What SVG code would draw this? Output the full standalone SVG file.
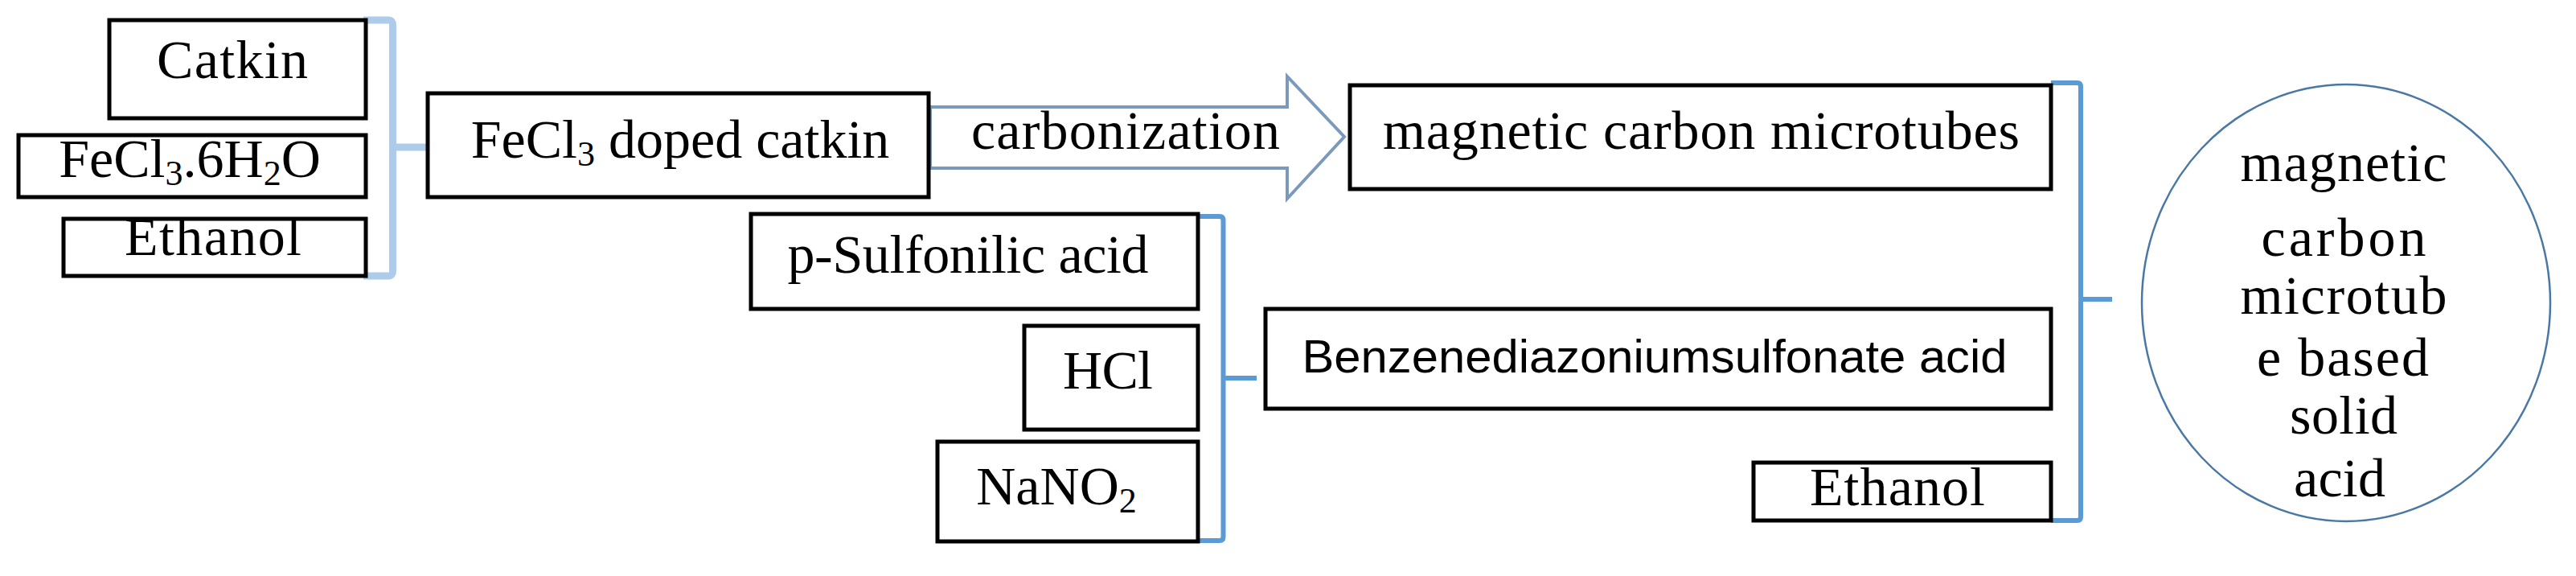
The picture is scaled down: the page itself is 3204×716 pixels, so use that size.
<svg xmlns="http://www.w3.org/2000/svg" width="3204" height="716" viewBox="0 0 3204 716">
<style>
.box{fill:#ffffff;stroke:#000000;stroke-width:5}
.t{font-family:'Liberation Serif','Times New Roman',serif;font-size:68px;fill:#000000;text-anchor:middle}
.s{font-family:'Liberation Sans',Arial,sans-serif;font-size:57px;fill:#000000;text-anchor:middle}
.br{fill:none;stroke:#5b9bd5;stroke-width:6}
.brl{fill:none;stroke:#aecbe9;stroke-width:9}
.arrow{fill:#ffffff;stroke:#7b99ba;stroke-width:4;stroke-linejoin:miter}
.circ{fill:#ffffff;stroke:#4a78a5;stroke-width:2.5}
</style>
<rect width="3204" height="716" fill="#ffffff"/>
<g id="connectors">
<path class="brl" d="M452,25 H483 Q488.5,25 488.5,31 V337 Q488.5,343 483,343 H452 M488.5,183 H530"/>
<path class="arrow" d="M1157,133 H1601 V95 L1672,170 L1601,247 V209 H1157 Z"/>
<path class="br" d="M1488,269 H1517 Q1521.5,269 1521.5,274 V667 Q1521.5,672 1517,672 H1488 M1521.5,470 H1563"/>
<path class="br" d="M2551,103 H2584 Q2588,103 2588,108 V642 Q2588,647 2584,647 H2551 M2588,372 H2627"/>
</g>
<g id="node-catkin">
<rect class="box" x="136" y="25" width="319" height="122"/>
<text class="t" x="289" y="97" textLength="188">Catkin</text>
</g>
<g id="node-fecl3-6h2o">
<rect class="box" x="23" y="168" width="432" height="77"/>
<text class="t" x="236" y="220">FeCl<tspan font-size="44" dy="10">3</tspan><tspan dy="-10">.6H</tspan><tspan font-size="44" dy="10">2</tspan><tspan dy="-10">O</tspan></text>
</g>
<g id="node-ethanol-left">
<rect class="box" x="79" y="272" width="376" height="71"/>
<text class="t" x="265" y="317" textLength="220">Ethanol</text>
</g>
<g id="node-fecl3-doped">
<rect class="box" x="532" y="116" width="623" height="129"/>
<text class="t" x="846" y="196">FeCl<tspan font-size="44" dy="10">3</tspan><tspan dy="-10"> doped catkin</tspan></text>
</g>
<g id="label-carbonization">
<text class="t" x="1400" y="185" textLength="384">carbonization</text>
</g>
<g id="node-mcm">
<rect class="box" x="1679" y="106" width="872" height="129"/>
<text class="t" x="2116" y="185" textLength="792">magnetic carbon microtubes</text>
</g>
<g id="node-sulfonilic">
<rect class="box" x="934" y="266" width="556" height="118"/>
<text class="t" x="1204" y="339" textLength="449">p-Sulfonilic acid</text>
</g>
<g id="node-hcl">
<rect class="box" x="1274" y="405" width="216" height="129"/>
<text class="t" x="1378" y="483" textLength="112">HCl</text>
</g>
<g id="node-nano2">
<rect class="box" x="1166" y="549" width="324" height="124"/>
<text class="t" x="1314" y="627">NaNO<tspan font-size="44" dy="10">2</tspan></text>
</g>
<g id="node-benzene">
<rect class="box" x="1574" y="384" width="977" height="124"/>
<text class="s" x="2058" y="463" textLength="877" lengthAdjust="spacingAndGlyphs">Benzenediazoniumsulfonate acid</text>
</g>
<g id="node-ethanol-right">
<rect class="box" x="2181" y="575" width="370" height="72"/>
<text class="t" x="2360" y="628" textLength="218">Ethanol</text>
</g>
<g id="node-product">
<ellipse class="circ" cx="2918" cy="376.5" rx="254" ry="271.5"/>
<text class="t" x="2915" y="225" textLength="257">magnetic</text>
<text class="t" x="2915" y="318" textLength="205">carbon</text>
<text class="t" x="2915" y="390" textLength="257">microtub</text>
<text class="t" x="2914" y="467" textLength="214">e based</text>
<text class="t" x="2915" y="539" textLength="134">solid</text>
<text class="t" x="2910" y="617" textLength="114">acid</text>
</g>
</svg>
